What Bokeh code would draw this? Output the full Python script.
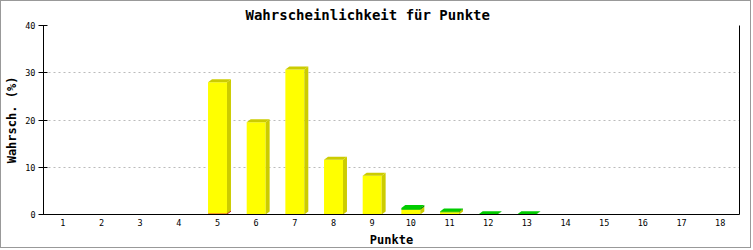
from bokeh.plotting import figure
from bokeh.models import FixedTicker, LinearAxis, Range1d, Title
from bokeh.embed import file_html
from bokeh.resources import INLINE

# ---- data ----
categories = list(range(1, 19))
red_vals = [0, 0, 0, 0, 0.2, 0, 0, 0, 0, 0, 0, 0, 0, 0, 0, 0, 0, 0]
yellow_vals = [0, 0, 0, 0, 27.8, 19.5, 30.7, 11.6, 8.2, 1.0, 0.5, 0, 0, 0, 0, 0, 0, 0]
green_vals = [0, 0, 0, 0, 0, 0, 0, 0, 0, 0.35, 0.15, 0.05, 0.05, 0, 0, 0, 0, 0]
y_ticks = [0, 10, 20, 30, 40]
title_text = "Wahrscheinlichkeit für Punkte"
x_label = "Punkte"
y_label = "Wahrsch. (%)"

# ---- layout ----
W, H = 751, 248
BL, BT = 42, 24
FW, FH = 696, 189
BR = W - BL - FW
BB = H - BT - FH
x0, x1 = 0.5, 18.5
y0, y1 = 0, 40
bar_w = 0.49
dx = 4 * (x1 - x0) / FW
dy = 3 * (y1 - y0) / FH

MONO = "DejaVu Sans Mono"

p = figure(width=W, height=H, output_backend="svg", toolbar_location=None,
           x_range=Range1d(x0, x1), y_range=Range1d(y0, y1),
           min_border_left=BL, min_border_right=BR, min_border_top=BT, min_border_bottom=BB,
           tools="")
p.styles = {"border": "1px solid #999999", "margin": "0"}
p.outline_line_color = None
p.background_fill_color = "white"
p.border_fill_color = "white"

p.title = Title(text=title_text, align="left", offset=202, standoff=5,
                text_font=MONO, text_font_size="14px", text_font_style="bold", text_color="black")

# axes
p.xaxis.ticker = FixedTicker(ticks=categories)
p.xaxis.major_tick_out = 0
p.xaxis.major_tick_in = 0
p.xaxis.minor_tick_line_color = None
p.xaxis.major_label_text_font = MONO
p.xaxis.major_label_text_font_size = "8.5px"
p.xaxis.major_label_text_color = "black"
p.xaxis.major_label_standoff = 4
p.xaxis.axis_label = x_label
p.xaxis.axis_label_text_font = MONO
p.xaxis.axis_label_text_font_size = "12px"
p.xaxis.axis_label_text_font_style = "bold"
p.xaxis.axis_label_text_color = "black"
p.xaxis.axis_label_standoff = 4
p.xaxis.axis_line_color = "black"

p.yaxis.ticker = FixedTicker(ticks=y_ticks)
p.yaxis.major_tick_out = 5
p.yaxis.major_tick_in = 4
p.yaxis.minor_tick_line_color = None
p.yaxis.major_label_text_font = MONO
p.yaxis.major_label_text_font_size = "8.5px"
p.yaxis.major_label_text_color = "black"
p.yaxis.major_label_standoff = 3
p.yaxis.axis_label = y_label
p.yaxis.axis_label_text_font = MONO
p.yaxis.axis_label_text_font_size = "12px"
p.yaxis.axis_label_text_font_style = "bold"
p.yaxis.axis_label_text_color = "black"
p.yaxis.axis_label_standoff = 3
p.yaxis.axis_line_color = "black"

right = LinearAxis(ticker=FixedTicker(ticks=[]), major_label_text_font_size="0px",
                   major_tick_out=0, major_tick_in=0, minor_tick_line_color=None,
                   axis_line_color="black")
p.add_layout(right, "right")

p.xgrid.grid_line_color = None
p.ygrid.grid_line_color = "#bbbbbb"
p.ygrid.grid_line_dash = "2 3"

# ---- stacked 3D bars ----
series = [
    (red_vals, "#ff0000", "#b00000", "#cc0000"),
    (yellow_vals, "#ffff00", "#cccc00", "#cccc00"),
    (green_vals, "#00cc00", "#009900", "#00cc00"),
]
base = [0.0] * len(categories)
for vals, front, side, top in series:
    L, R, B, T = [], [], [], []
    sx, sy, tx, ty = [], [], [], []
    for i, c in enumerate(categories):
        v = vals[i]
        if v <= 0:
            continue
        b = base[i]
        t = b + v
        l, r = c - bar_w / 2, c + bar_w / 2
        L.append(l); R.append(r); B.append(b); T.append(t)
        sx.append([r, r + dx, r + dx, r])
        sy.append([b, b + dy, t + dy, t])
        tx.append([l, l + dx, r + dx, r])
        ty.append([t, t + dy, t + dy, t])
        base[i] = t
    if L:
        p.quad(left=L, right=R, bottom=B, top=T, fill_color=front, line_color=None)
        p.patches(xs=sx, ys=sy, fill_color=side, line_color=None)
        p.patches(xs=tx, ys=ty, fill_color=top, line_color=None)

html = file_html(p, INLINE)
html = html.replace("<body>", "<body style=\"margin:0\">")
open("out.html", "w").write(html)
